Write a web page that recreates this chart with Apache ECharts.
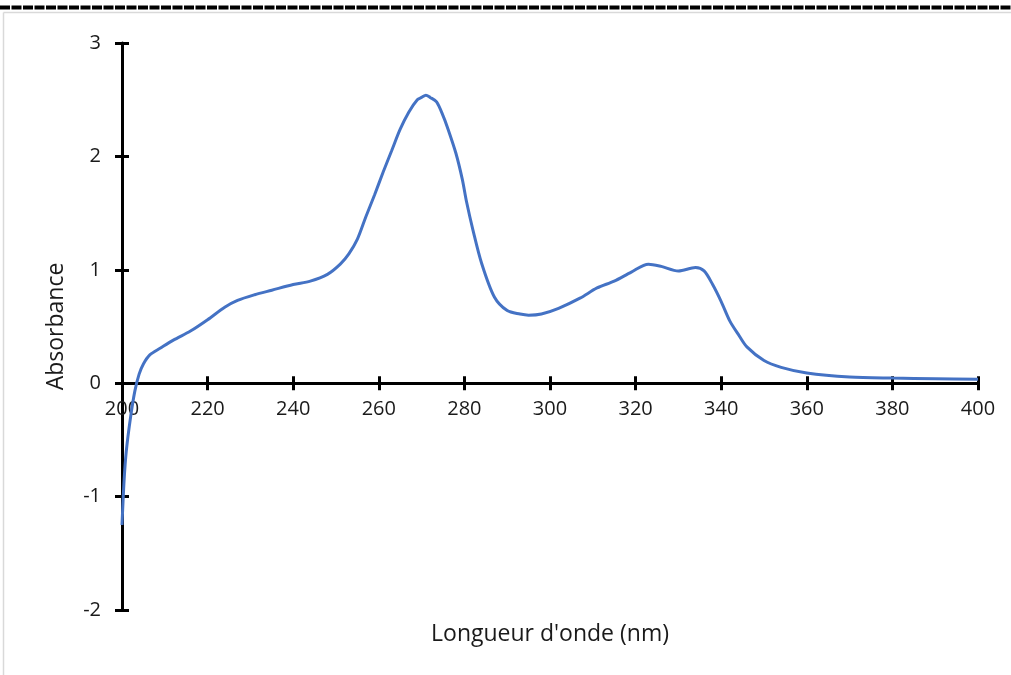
<!DOCTYPE html>
<html>
<head>
<meta charset="utf-8">
<script src="https://cdn.jsdelivr.net/npm/echarts@6/dist/echarts.min.js"></script>
<style>
  html, body { margin: 0; padding: 0; background: #fff; }
  #chart { width: 1011px; height: 675px; }
</style>
</head>
<body>
<div id="chart"></div>
<script>
// spectre UV : longueur d'onde (nm) / absorbance
var wavelengths = [200, 200.5, 201, 202, 203, 204, 205, 206.5, 209, 212, 216, 220, 224, 227, 231, 235,
  240, 244, 248, 251, 253, 255, 257, 259, 261, 263, 265, 267, 269, 270, 271, 272, 273.5, 275, 276,
  278, 279.5, 280.5, 282, 284, 287, 290, 293, 295, 298, 302, 307, 311, 315, 319, 323, 326, 330,
  334, 336, 338, 340, 342, 344, 346, 350, 354, 360, 370, 380, 390, 400];
var absorbance = [-1.25, -0.85, -0.6, -0.3, -0.07, 0.08, 0.17, 0.25, 0.31, 0.38, 0.46, 0.56, 0.67, 0.73, 0.78, 0.82,
  0.87, 0.9, 0.96, 1.05, 1.14, 1.27, 1.47, 1.66, 1.86, 2.05, 2.24, 2.39, 2.5, 2.52, 2.54, 2.52, 2.48, 2.36, 2.26,
  2.03, 1.8, 1.6, 1.35, 1.06, 0.76, 0.64, 0.61, 0.6, 0.61, 0.66, 0.75, 0.84, 0.9, 0.98, 1.05, 1.03, 0.99,
  1.02, 0.99, 0.87, 0.72, 0.55, 0.43, 0.32, 0.2, 0.14, 0.09, 0.055, 0.045, 0.04, 0.035];
var xTicks = [200, 220, 240, 260, 280, 300, 320, 340, 360, 380, 400];
var yTicks = [-2, -1, 0, 1, 2, 3];

var font = '"Open Sans", sans-serif';
var txt = '#1a1a1a';
var fs = 20;      // graduations
var fsName = 23;  // titres des axes

var points = [];
for (var i = 0; i < wavelengths.length; i++) {
  points.push([wavelengths[i], absorbance[i]]);
}

var chart = echarts.init(document.getElementById('chart'));

var tick = { color: '#000', width: 3 };
var xBase = {
  type: 'value', min: xTicks[0], max: xTicks[xTicks.length - 1], interval: 20,
  position: 'bottom', splitLine: { show: false }
};
var yBase = {
  type: 'value', min: yTicks[0], max: yTicks[yTicks.length - 1], interval: 1,
  position: 'left', splitLine: { show: false }
};

// grid 0 : la courbe et l'axe Y ; grid 1 : l'axe X posé sur y = 0
var gTop = 43, gBottom = 65, gH = 675 - gTop - gBottom;
var zeroY = gTop + gH * yTicks[yTicks.length - 1] / (yTicks[yTicks.length - 1] - yTicks[0]);

chart.setOption({
  animation: false,
  grid: [
    { left: 122, right: 33, top: gTop, bottom: gBottom },
    { left: 122, right: 33, top: gTop, bottom: 675 - zeroY }
  ],
  xAxis: [
    Object.assign({}, xBase, { gridIndex: 0, show: false }),
    Object.assign({}, xBase, {
      gridIndex: 1,
      axisLine: { onZero: false, lineStyle: { color: '#000', width: 3 } },
      axisTick: { length: 7, lineStyle: tick },
      axisLabel: { margin: 16, color: txt, fontSize: fs, fontFamily: font }
    }),
    Object.assign({}, xBase, {
      gridIndex: 1,
      axisLine: { show: false, onZero: false },
      axisTick: { inside: true, length: 7, lineStyle: tick },
      axisLabel: { show: false }
    })
  ],
  yAxis: [
    Object.assign({}, yBase, {
      gridIndex: 0,
      name: 'Absorbance', nameLocation: 'middle', nameGap: 54, nameRotate: 90,
      nameTextStyle: { color: txt, fontSize: fsName, fontFamily: font },
      axisLine: { onZero: false, lineStyle: { color: '#000', width: 3 } },
      axisTick: { length: 7, lineStyle: tick },
      axisLabel: { margin: 21, color: txt, fontSize: fs, fontFamily: font }
    }),
    Object.assign({}, yBase, {
      gridIndex: 0,
      axisLine: { show: false, onZero: false },
      axisTick: { inside: true, length: 7, lineStyle: tick },
      axisLabel: { show: false }
    }),
    { type: 'value', gridIndex: 1, show: false, min: 0, max: 1 }
  ],
  graphic: [
    { type: 'line', shape: { x1: 0, y1: 7.5, x2: 1011, y2: 7.5 },
      style: { stroke: '#000', lineWidth: 4, lineDash: [10, 1.5] } },
    { type: 'line', shape: { x1: 3.5, y1: 12.5, x2: 1011, y2: 12.5 },
      style: { stroke: '#d9d9d9', lineWidth: 1.5 } },
    { type: 'line', shape: { x1: 3.5, y1: 12.5, x2: 3.5, y2: 675 },
      style: { stroke: '#d9d9d9', lineWidth: 1.5 } },
    { type: 'text', x: 550, y: 634,
      style: { text: "Longueur d'onde (nm)", fill: txt, fontSize: fsName, fontFamily: font,
        textAlign: 'center', textVerticalAlign: 'middle' } }
  ],
  series: [{
    type: 'line',
    xAxisIndex: 0,
    yAxisIndex: 0,
    data: points,
    showSymbol: false,
    smooth: 0.3,
    lineStyle: { color: '#4472C4', width: 3 }
  }]
});
</script>
</body>
</html>
